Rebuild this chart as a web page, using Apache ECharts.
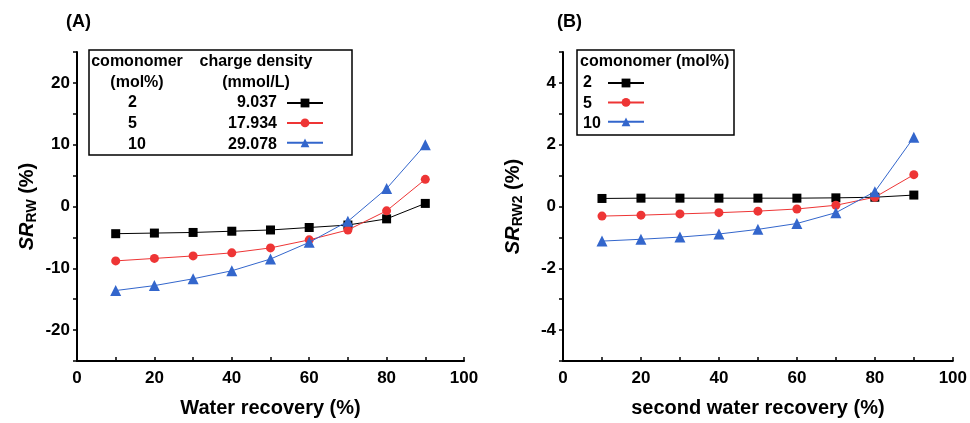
<!DOCTYPE html>
<html>
<head>
<meta charset="utf-8">
<script src="https://cdn.jsdelivr.net/npm/echarts@6/dist/echarts.min.js"></script>
<style>
  html, body { margin: 0; padding: 0; background: #fff; }
  #chart { width: 970px; height: 423px; }
</style>
</head>
<body>
<div id="chart"></div>
<script>
// recovery (%) on x
const recovery = [10, 20, 30, 40, 50, 60, 70, 80, 90];
// panel A: SR_RW (%)
const srRw2 = [-4.4, -4.3, -4.2, -4.0, -3.8, -3.4, -3.0, -2.0, 0.5];
const srRw5 = [-8.8, -8.4, -8.0, -7.5, -6.7, -5.4, -3.8, -0.7, 4.4];
const srRw10 = [-13.6, -12.8, -11.7, -10.4, -8.5, -5.8, -2.4, 2.9, 10.0];
// panel B: SR_RW2 (%)
const srRw2b2 = [0.26, 0.27, 0.27, 0.27, 0.27, 0.27, 0.28, 0.30, 0.37];
const srRw2b5 = [-0.31, -0.28, -0.24, -0.2, -0.15, -0.08, 0.04, 0.3, 1.03];
const srRw2b10 = [-1.12, -1.06, -0.99, -0.89, -0.74, -0.55, -0.2, 0.48, 2.24];
// legend table
const comonomer = ['2', '5', '10'];
const chargeDensity = ['9.037', '17.934', '29.078'];

const colors = ['#000000', '#ee3535', '#3366cc'];
const symbols = ['rect', 'circle', 'triangle'];
const symbolSizes = [9, 9, 11];
const font = 'Liberation Sans, Arial, sans-serif';

const chart = echarts.init(document.getElementById('chart'));

const makeSeries = (idx, name, values, k) => ({
  name: name,
  type: 'line',
  xAxisIndex: idx,
  yAxisIndex: idx,
  data: recovery.map((x, i) => [x, values[i]]),
  symbol: symbols[k],
  symbolSize: symbolSizes[k],
  color: colors[k],
  lineStyle: { width: 1, color: colors[k] },
  itemStyle: { color: colors[k] },
  z: 3 + k
});

const xAxisCommon = {
  type: 'value', min: 0, max: 100, interval: 10,
  axisLine: { onZero: false, lineStyle: { color: '#000', width: 2 } },
  axisTick: { inside: true, length: 4, lineStyle: { color: '#000', width: 1.5 } },
  axisLabel: { color: '#000', fontSize: 17, fontWeight: 'bold', fontFamily: font, margin: 9,
    formatter: v => (v % 20 === 0 ? v : '') },
  splitLine: { show: false },
  nameLocation: 'middle', nameGap: 37,
  nameTextStyle: { color: '#000', fontSize: 20, fontWeight: 'bold', fontFamily: font }
};

const yRich = {
  i: { fontStyle: 'italic', fontWeight: 'bold', fontSize: 20, fontFamily: font, color: '#000', lineHeight: 24 },
  s: { fontWeight: 'bold', fontSize: 14, fontFamily: font, color: '#000', verticalAlign: 'bottom', lineHeight: 14, padding: [8, 0, 0, 0] },
  n: { fontWeight: 'bold', fontSize: 20, fontFamily: font, color: '#000', lineHeight: 24 }
};

const yAxisCommon = (min, max, interval, major) => ({
  type: 'value', min: min, max: max, interval: interval,
  axisLine: { show: true, onZero: false, lineStyle: { color: '#000', width: 2 } },
  axisTick: { show: true, inside: false, length: 4, lineStyle: { color: '#000', width: 1.5 } },
  axisLabel: { color: '#000', fontSize: 17, fontWeight: 'bold', fontFamily: font, margin: 7,
    formatter: v => (Math.abs(v % major) < 1e-9 && Math.abs(v) < max ? v : '') },
  splitLine: { show: false },
  nameLocation: 'middle', nameGap: 38, nameRotate: 90,
  nameTextStyle: { rich: yRich }
});

const legendCommon = {
  orient: 'vertical',
  itemWidth: 36,
  itemHeight: 11,
  padding: 0,
  selectedMode: false,
  formatter: () => '',
  textStyle: { fontSize: 6 }
};

const txt = (x, y, text, align) => ({
  type: 'text', x: x, y: y,
  style: { text: text, fill: '#000', font: 'bold 16px ' + font, align: align || 'left', verticalAlign: 'middle' }
});

const graphics = [
  { type: 'text', x: 66, y: 22, style: { text: '(A)', fill: '#000', font: 'bold 18px ' + font, verticalAlign: 'middle' } },
  { type: 'text', x: 557, y: 22, style: { text: '(B)', fill: '#000', font: 'bold 18px ' + font, verticalAlign: 'middle' } },
  { type: 'rect', shape: { x: 89, y: 50, width: 263, height: 105 }, style: { fill: 'none', stroke: '#000', lineWidth: 1.5 }, z: 10 },
  { type: 'rect', shape: { x: 577, y: 50, width: 157, height: 85 }, style: { fill: 'none', stroke: '#000', lineWidth: 1.5 }, z: 10 },
  txt(137, 62, 'comonomer', 'center'),
  txt(137, 83, '(mol%)', 'center'),
  txt(256, 62, 'charge density', 'center'),
  txt(256, 83, '(mmol/L)', 'center'),
  txt(580, 62, 'comonomer (mol%)')
];
comonomer.forEach((c, i) => {
  graphics.push(txt(128, 103 + i * 21, c));
  graphics.push(txt(277, 103 + i * 21, chargeDensity[i], 'right'));
  graphics.push(txt(583, 83 + i * 20.5, c));
});

const option = {
  animation: false,
  backgroundColor: '#fff',
  grid: [
    { left: 77, right: 506, top: 52, bottom: 58 },
    { left: 563, right: 17, top: 52, bottom: 58 }
  ],
  xAxis: [
    Object.assign({ gridIndex: 0, name: 'Water recovery (%)' }, xAxisCommon),
    Object.assign({ gridIndex: 1, name: 'second water recovery (%)' }, xAxisCommon)
  ],
  yAxis: [
    Object.assign(yAxisCommon(-25, 25, 5, 10), { gridIndex: 0, name: '{i|SR}{s|RW}{n| (%)}' }),
    Object.assign(yAxisCommon(-5, 5, 1, 2), { gridIndex: 1, name: '{i|SR}{s|RW2}{n| (%)}' })
  ],
  legend: [
    Object.assign({ left: 286, top: 97.5, itemGap: 10, data: ['A2', 'A5', 'A10'] }, legendCommon),
    Object.assign({ left: 607, top: 77.5, itemGap: 9.5, data: ['B2', 'B5', 'B10'] }, legendCommon)
  ],
  graphic: graphics,
  series: [
    makeSeries(0, 'A2', srRw2, 0),
    makeSeries(0, 'A5', srRw5, 1),
    makeSeries(0, 'A10', srRw10, 2),
    makeSeries(1, 'B2', srRw2b2, 0),
    makeSeries(1, 'B5', srRw2b5, 1),
    makeSeries(1, 'B10', srRw2b10, 2)
  ]
};

chart.setOption(option);
</script>
</body>
</html>
